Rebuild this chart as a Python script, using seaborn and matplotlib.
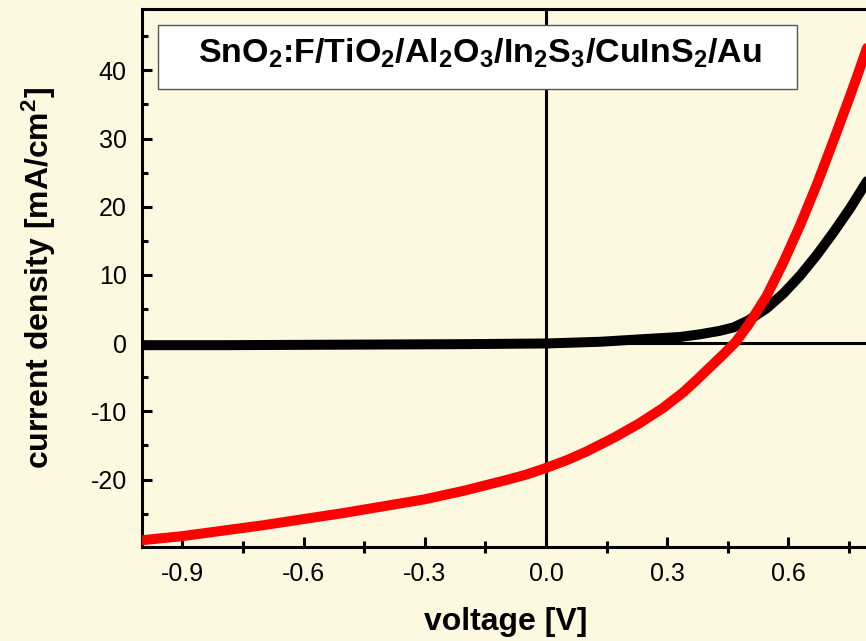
import numpy as np
import pandas as pd
import matplotlib
matplotlib.use("Agg")
import matplotlib.pyplot as plt
from matplotlib.ticker import MultipleLocator
from matplotlib.patches import Rectangle
import seaborn as sns

# J-V curves (voltage in V, current density in mA/cm2)
dark_v = [-1.0, -0.8, -0.6, -0.4, -0.2, 0.0, 0.134, 0.217, 0.332, 0.382, 0.43, 0.464,
          0.5, 0.546, 0.588, 0.629, 0.67, 0.711, 0.753, 0.792, 0.80]
dark_j = [-0.3, -0.3, -0.25, -0.2, -0.15, -0.05, 0.2, 0.5, 0.9, 1.3, 1.8, 2.3,
          3.3, 5.1, 7.3, 9.9, 12.9, 16.2, 19.8, 23.5, 24.3]

light_v = [-1.0, -0.9, -0.8, -0.7, -0.6, -0.5, -0.4, -0.3, -0.2, -0.1, -0.05, 0.0,
           0.05, 0.1, 0.167, 0.23, 0.29, 0.34, 0.373, 0.41, 0.44, 0.47, 0.5,
           0.546, 0.588, 0.629, 0.67, 0.711, 0.753, 0.777, 0.80]
light_j = [-28.9, -28.3, -27.5, -26.7, -25.8, -24.9, -23.9, -22.9, -21.6, -20.1, -19.3, -18.3,
           -17.2, -15.9, -13.9, -11.8, -9.5, -7.2, -5.4, -3.3, -1.6, 0.2, 2.6,
           6.9, 11.9, 17.3, 23.2, 29.6, 36.3, 40.3, 44.2]

title_text = r"SnO$_2$:F/TiO$_2$/Al$_2$O$_3$/In$_2$S$_3$/CuInS$_2$/Au"
xlabel_text = "voltage [V]"
ylabel_text = r"current density [mA/cm$^2$]"

bg = "#FDF9E1"

sns.set_theme(style="ticks", rc={
    "figure.facecolor": bg,
    "axes.facecolor": bg,
    "axes.unicode_minus": False,
    "mathtext.default": "regular",
    "text.color": "black",
    "axes.labelcolor": "black",
    "xtick.color": "black",
    "ytick.color": "black",
})
plt.rcParams["font.family"] = ["Liberation Sans", "DejaVu Sans"]

df = pd.concat([
    pd.DataFrame({"voltage": dark_v, "current": dark_j, "curve": "dark"}),
    pd.DataFrame({"voltage": light_v, "current": light_j, "curve": "light"}),
], ignore_index=True)

fig = plt.figure(figsize=(8.66, 6.41), dpi=100)
ax = fig.add_axes([0.164, 0.1466, 0.8397, 0.8394])

# zero lines
ax.axhline(0, color="black", lw=2.2, zorder=1)
ax.axvline(0, color="black", lw=2.2, zorder=1)

sns.lineplot(data=df, x="voltage", y="current", hue="curve",
             hue_order=["dark", "light"],
             palette={"dark": "black", "light": "#FF0000"},
             estimator=None, sort=False, linewidth=7.2, legend=False,
             ax=ax, zorder=3)

ax.set_xlim(-1.0, 0.8)
ax.set_ylim(-29.9, 49)

ax.xaxis.set_major_locator(MultipleLocator(0.3))
ax.xaxis.set_minor_locator(MultipleLocator(0.15))
ax.yaxis.set_major_locator(MultipleLocator(10))
ax.yaxis.set_minor_locator(MultipleLocator(5))
ax.xaxis.set_major_formatter(matplotlib.ticker.FormatStrFormatter("%.1f"))

ax.tick_params(which="major", direction="in", length=7.2, width=2.2,
               labelsize=18, colors="black", pad=11)
ax.tick_params(axis="x", which="minor", direction="inout", length=9, width=2.2)
ax.tick_params(axis="y", which="minor", direction="in", length=4.5, width=2.2)

for side in ["left", "bottom", "top", "right"]:
    ax.spines[side].set_linewidth(2.2)
    ax.spines[side].set_color("black")

ax.set_xlabel(xlabel_text, fontsize=23, fontweight="bold", color="black")
ax.set_ylabel(ylabel_text, fontsize=23, fontweight="bold", color="black")
ax.xaxis.set_label_coords(0.5, -0.112)
ax.yaxis.set_label_coords(-0.1155, 0.5)

# title box
ax.add_patch(Rectangle((0.022, 0.8513), 0.8787, 0.119, transform=ax.transAxes,
                       facecolor="white", edgecolor="#555555", lw=1.0, zorder=4))
ax.text(0.4648, 0.8996, title_text, transform=ax.transAxes, ha="center",
        va="baseline", fontsize=24.5, fontweight="bold", color="black", zorder=5)

fig.savefig("out.png", dpi=100, facecolor=bg)
